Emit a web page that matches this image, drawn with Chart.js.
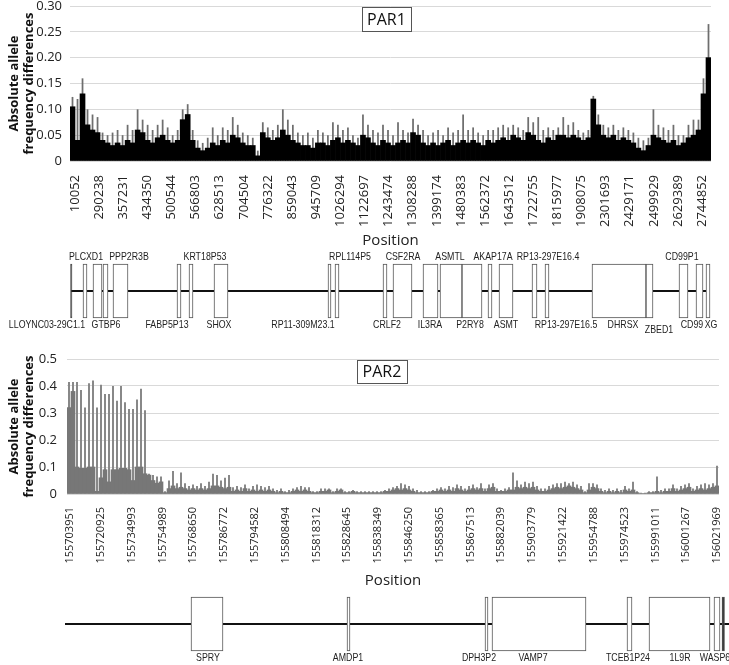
<!DOCTYPE html>
<html>
<head>
<meta charset="utf-8">
<title>PAR1 / PAR2 allele frequency differences</title>
<script src="https://cdn.jsdelivr.net/npm/chart.js@4.4.1/dist/chart.umd.min.js"></script>
<style>
  body { margin: 0; background: #fff; }
  #wrap { position: relative; width: 729px; height: 665px; }
  canvas { position: absolute; left: 0; }
</style>
</head>
<body>
<div id="wrap">
  <canvas id="par1Chart" width="729" height="250" style="top:0px"></canvas>
  <canvas id="par1Genes" width="729" height="90" style="top:250px"></canvas>
  <canvas id="par2Chart" width="729" height="250" style="top:340px"></canvas>
  <canvas id="par2Genes" width="729" height="75" style="top:590px"></canvas>
</div>
<script>
'use strict';

// ---- PAR1 data (bins read left to right off the picture) ----
let par1Ticks = ['10052', '290238', '357231', '434350', '500544', '566803', '628513', '704504',
  '776322', '859043', '945709', '1026294', '1122697', '1243474', '1308288', '1399174',
  '1480383', '1562372', '1643512', '1722755', '1815977', '1908075', '2301693', '2429171',
  '2499929', '2629389', '2744852'];

// bulk of the black fill in each bin
let par1Body = [
  0.105, 0.04, 0.13, 0.07, 0.06, 0.055, 0.04, 0.035, 0.03, 0.035,
  0.03, 0.04, 0.035, 0.06, 0.055, 0.04, 0.035, 0.045, 0.05, 0.04,
  0.035, 0.04, 0.08, 0.09, 0.04, 0.025, 0.02, 0.025, 0.035, 0.03,
  0.04, 0.035, 0.05, 0.045, 0.035, 0.03, 0.03, 0.01, 0.055, 0.045,
  0.04, 0.045, 0.06, 0.05, 0.04, 0.035, 0.03, 0.03, 0.025, 0.035,
  0.035, 0.03, 0.04, 0.045, 0.035, 0.04, 0.035, 0.03, 0.05, 0.045,
  0.035, 0.03, 0.04, 0.035, 0.03, 0.035, 0.04, 0.035, 0.055, 0.05,
  0.035, 0.03, 0.035, 0.03, 0.035, 0.04, 0.03, 0.035, 0.04, 0.035,
  0.04, 0.035, 0.03, 0.04, 0.035, 0.04, 0.045, 0.04, 0.05, 0.045,
  0.04, 0.055, 0.05, 0.04, 0.035, 0.045, 0.04, 0.05, 0.05, 0.045,
  0.05, 0.045, 0.04, 0.045, 0.12, 0.07, 0.05, 0.045, 0.05, 0.04,
  0.045, 0.04, 0.035, 0.025, 0.02, 0.03, 0.05, 0.045, 0.04, 0.035,
  0.04, 0.03, 0.035, 0.045, 0.05, 0.06, 0.13, 0.20
];
// highest spike in each bin
let par1Spike = [
  0.124, 0.12, 0.16, 0.10, 0.09, 0.085, 0.055, 0.05, 0.055, 0.06,
  0.05, 0.07, 0.06, 0.10, 0.08, 0.07, 0.06, 0.07, 0.08, 0.065,
  0.05, 0.06, 0.10, 0.11, 0.06, 0.04, 0.035, 0.045, 0.065, 0.05,
  0.065, 0.06, 0.085, 0.07, 0.055, 0.05, 0.045, 0.02, 0.075, 0.065,
  0.06, 0.07, 0.10, 0.08, 0.07, 0.055, 0.05, 0.055, 0.045, 0.06,
  0.055, 0.05, 0.075, 0.07, 0.06, 0.065, 0.05, 0.045, 0.09, 0.07,
  0.06, 0.055, 0.07, 0.06, 0.05, 0.075, 0.06, 0.055, 0.082, 0.07,
  0.06, 0.05, 0.055, 0.06, 0.05, 0.065, 0.055, 0.06, 0.09, 0.06,
  0.065, 0.055, 0.05, 0.06, 0.06, 0.065, 0.07, 0.065, 0.07, 0.065,
  0.06, 0.085, 0.075, 0.085, 0.06, 0.065, 0.06, 0.065, 0.085, 0.07,
  0.075, 0.06, 0.055, 0.06, 0.126, 0.09, 0.07, 0.065, 0.07, 0.06,
  0.065, 0.06, 0.055, 0.045, 0.04, 0.045, 0.10, 0.07, 0.065, 0.06,
  0.07, 0.05, 0.05, 0.07, 0.08, 0.08, 0.16, 0.265
];

// ---- PAR2 data ----
let par2Ticks = ['155703951', '155720925', '155734993', '155754989', '155768650', '155786772',
  '155794582', '155808494', '155818312', '155828645', '155838349', '155846250', '155858365',
  '155867513', '155882039', '155903779', '155921422', '155954788', '155974523', '155991011',
  '156001267', '156021969'];

let par2Base = [
  0.32, 0.38, 0.10, 0.095, 0.095, 0.10, 0.10, 0.01, 0.06, 0.09,
  0.045, 0.09, 0.09, 0.095, 0.095, 0.09, 0.05, 0.10, 0.10, 0.075,
  0.07, 0.05, 0.04, 0.045, 0.005, 0.02, 0.03, 0.02, 0.025, 0.02,
  0.015, 0.02, 0.015, 0.02, 0.015, 0.02, 0.03, 0.03, 0.025, 0.02,
  0.025, 0.01, 0.015, 0.01, 0.02, 0.01, 0.015, 0.01, 0.015, 0.01,
  0.015, 0.01, 0.005, 0.01, 0.005, 0.005, 0.01, 0.015, 0.01, 0.015,
  0.01, 0.005, 0.005, 0.01, 0.01, 0.015, 0.005, 0.01, 0.015, 0.005,
  0.005, 0.01, 0.005, 0.005, 0.005, 0.005, 0.005, 0.005, 0.005, 0.01,
  0.01, 0.015, 0.02, 0.015, 0.02, 0.015, 0.01, 0.005, 0.005, 0.005,
  0.005, 0.01, 0.01, 0.015, 0.01, 0.015, 0.01, 0.02, 0.015, 0.01,
  0.015, 0.02, 0.015, 0.02, 0.01, 0.02, 0.025, 0.01, 0.01, 0.01,
  0.015, 0.015, 0.025, 0.02, 0.025, 0.02, 0.025, 0.015, 0.01, 0.01,
  0.015, 0.02, 0.025, 0.02, 0.025, 0.03, 0.025, 0.02, 0.015, 0.005,
  0.015, 0.025, 0.02, 0.01, 0.005, 0.01, 0.005, 0.01, 0.005, 0.015,
  0.01, 0.015, 0.005, 0.002, 0.002, 0.005, 0.005, 0.01, 0.005, 0.01,
  0.01, 0.02, 0.01, 0.015, 0.02, 0.025, 0.01, 0.015, 0.02, 0.015,
  0.02, 0.025, 0.03
];
let par2Spike = [
  0.415, 0.415, 0.415, 0.385, 0.32, 0.41, 0.42, 0.32, 0.405, 0.37,
  0.37, 0.40, 0.345, 0.40, 0.34, 0.315, 0.315, 0.35, 0.39, 0.31,
  0.075, 0.07, 0.065, 0.065, 0.01, 0.05, 0.085, 0.04, 0.08, 0.04,
  0.03, 0.035, 0.03, 0.04, 0.03, 0.045, 0.075, 0.07, 0.05, 0.06,
  0.07, 0.025, 0.03, 0.025, 0.035, 0.02, 0.03, 0.035, 0.03, 0.025,
  0.03, 0.02, 0.015, 0.02, 0.01, 0.015, 0.02, 0.025, 0.03, 0.025,
  0.025, 0.01, 0.01, 0.02, 0.02, 0.02, 0.01, 0.02, 0.02, 0.01,
  0.01, 0.015, 0.01, 0.01, 0.01, 0.01, 0.01, 0.01, 0.01, 0.015,
  0.02, 0.025, 0.03, 0.04, 0.035, 0.03, 0.02, 0.015, 0.01, 0.01,
  0.01, 0.015, 0.02, 0.025, 0.02, 0.03, 0.025, 0.035, 0.03, 0.02,
  0.03, 0.035, 0.025, 0.04, 0.02, 0.035, 0.04, 0.02, 0.015, 0.02,
  0.025, 0.08, 0.05, 0.035, 0.045, 0.04, 0.045, 0.03, 0.02, 0.02,
  0.03, 0.035, 0.04, 0.04, 0.045, 0.04, 0.045, 0.035, 0.03, 0.01,
  0.04, 0.04, 0.035, 0.02, 0.015, 0.02, 0.015, 0.02, 0.015, 0.03,
  0.02, 0.045, 0.01, 0.005, 0.005, 0.01, 0.01, 0.065, 0.015, 0.02,
  0.02, 0.035, 0.02, 0.03, 0.035, 0.04, 0.02, 0.03, 0.035, 0.04,
  0.035, 0.04, 0.105
];

// ---- gene maps (schematic units, same width as the panels above) ----
let par1GeneStart = [70.5, 83, 93, 103, 113, 177, 189, 214, 328, 335, 383, 393, 423, 440, 462,
  488, 499, 532, 545, 592, 646, 679, 696, 706];
let par1GeneEnd = [72, 87, 102, 108, 128, 181, 193, 228, 331, 339, 387, 412, 438, 462, 482,
  492, 513, 537, 549, 646, 653, 688, 703, 710];
let par1GeneNames = ['LLOYNC03-29C1.1', 'PLCXD1', 'GTBP6', 'PPP2R3B', 'FABP5P13', 'KRT18P53',
  'SHOX', 'RP11-309M23.1', 'RPL114P5', 'CRLF2', 'CSF2RA', 'IL3RA', 'ASMTL', 'P2RY8', 'AKAP17A',
  'ASMT', 'RP13-297E16.4', 'RP13-297E16.5', 'DHRSX', 'ZBED1', 'CD99P1', 'CD99', 'XG'];
let par1NameAt = [47, 86, 106, 129, 167, 205, 219, 303, 350, 387, 403, 430, 450, 470, 493,
  506, 548, 566, 623, 659, 682, 692, 711];
let par1NameSide = ['below', 'above', 'below', 'above', 'below', 'above', 'below', 'below',
  'above', 'below', 'above', 'below', 'above', 'below', 'above', 'below', 'above', 'below',
  'below', 'lower', 'above', 'below', 'below'];

let par2GeneStart = [191, 347, 485, 492, 627, 649, 714, 722];
let par2GeneEnd = [223, 350, 488, 586, 632, 710, 720, 724.5];
let par2GeneNames = ['SPRY', 'AMDP1', 'DPH3P2', 'VAMP7', 'TCEB1P24', '1L9R', 'WASP6'];
let par2NameAt = [208, 348, 479, 533, 628, 680, 715];
let par2NameSide = ['below', 'below', 'below', 'below', 'below', 'below', 'below'];

Chart.defaults.font.family = '"Open Sans", "Liberation Sans", sans-serif';
Chart.defaults.color = '#333';
Chart.defaults.animation = false;

// small boxed panel name (PAR1 / PAR2) inside the plot
function makeTagPlugin(text, cx, cy, w, h) {
  return {
    id: 'panelTag',
    afterDraw(chart) {
      let ctx = chart.ctx;
      ctx.save();
      ctx.fillStyle = '#fff';
      ctx.fillRect(cx - w / 2, cy - h / 2, w, h);
      ctx.strokeStyle = '#555';
      ctx.lineWidth = 1;
      ctx.strokeRect(Math.round(cx - w / 2) + 0.5, Math.round(cy - h / 2) + 0.5, w, h);
      ctx.fillStyle = '#111';
      ctx.font = '16px "Open Sans", sans-serif';
      ctx.textAlign = 'center';
      ctx.textBaseline = 'middle';
      ctx.fillText(text, cx, cy + 1);
      ctx.restore();
    }
  };
}

function drawFreqChart(canvasId, body, spike, ticks, opt) {
  let ctx = document.getElementById(canvasId);
  return new Chart(ctx, {
    type: 'bar',
    data: {
      labels: body.map((v, i) => i),
      datasets: [
        {
          data: spike,
          backgroundColor: opt.spikeColor,
          barPercentage: opt.spikeWidth,
          categoryPercentage: 1,
          grouped: false,
          order: 2
        },
        {
          data: body,
          backgroundColor: opt.bodyColor,
          barPercentage: 1,
          categoryPercentage: 1,
          grouped: false,
          order: 1
        }
      ]
    },
    options: {
      responsive: false,
      layout: { padding: opt.padding },
      plugins: { legend: { display: false }, tooltip: { enabled: false } },
      scales: {
        x: { type: 'category', display: false, offset: true },
        xt: {
          type: 'linear',
          axis: 'x',
          position: 'bottom',
          bounds: 'data',
          offset: false,
          min: opt.tickMin,
          max: opt.tickMax,
          grid: { display: false, drawTicks: false },
          border: { display: false },
          afterBuildTicks: (scale) => { scale.ticks = ticks.map((t, i) => ({ value: i })); },
          afterFit: (scale) => {
            scale.height = opt.xHeight;
            scale.paddingLeft = 0;
            scale.paddingRight = 0;
          },
          ticks: {
            autoSkip: false,
            minRotation: 90,
            maxRotation: 90,
            padding: opt.tickPad,
            color: '#222',
            font: { size: opt.tickFont },
            callback: (v) => (ticks[v] !== undefined ? ticks[v] : '')
          },
          title: {
            display: true,
            text: 'Position',
            color: '#222',
            font: { size: 15 },
            padding: { top: 0, bottom: 0 }
          }
        },
        y: {
          min: 0,
          max: opt.yMax,
          grid: { color: '#d9d9d9', drawTicks: false },
          border: { display: false },
          afterFit: (scale) => {
            scale.width = opt.yWidth;
            scale.paddingTop = 0;
            scale.paddingBottom = 0;
          },
          ticks: {
            stepSize: opt.yStep,
            padding: opt.yPad,
            color: '#222',
            font: { size: 13 },
            callback: (v) => (v === 0 ? '0' : v.toFixed(opt.yDigits))
          },
          title: {
            display: true,
            text: ['Absolute allele', 'frequency differences'],
            color: '#111',
            font: { size: 13, weight: 'bold', lineHeight: 1.15 },
            padding: { top: 7, bottom: 0 }
          }
        }
      }
    },
    plugins: [makeTagPlugin(opt.tag, opt.tagX, opt.tagY, opt.tagW, opt.tagH)]
  });
}

// gene names written above / below the boxes, squeezed to a narrow face
function makeGeneLabelPlugin(names, at, sides, rows, size) {
  return {
    id: 'geneLabels',
    afterDatasetsDraw(chart) {
      let ctx = chart.ctx;
      let xs = chart.scales.x;
      let ys = chart.scales.y;
      ctx.save();
      ctx.font = size + 'px "Liberation Sans", "DejaVu Sans", sans-serif';
      ctx.fillStyle = '#222';
      ctx.textAlign = 'center';
      ctx.textBaseline = 'middle';
      for (let i = 0; i < names.length; i++) {
        let w = ctx.measureText(names[i]).width * 0.8;
        ctx.fillText(names[i], xs.getPixelForValue(at[i]), ys.getPixelForValue(rows[sides[i]]), w);
      }
      ctx.restore();
    }
  };
}

function drawGeneMap(canvasId, starts, ends, names, at, sides, dims) {
  let ctx = document.getElementById(canvasId);
  let boxes = [];
  for (let i = 0; i < starts.length; i++) {
    boxes.push({ x: [starts[i], ends[i]], y: dims.lineY });
  }
  return new Chart(ctx, {
    type: 'bar',
    data: {
      datasets: [
        {
          type: 'line',
          data: [{ x: dims.lineFrom, y: dims.lineY }, { x: dims.lineTo, y: dims.lineY }],
          borderColor: '#111',
          borderWidth: 2,
          pointRadius: 0,
          order: 2
        },
        {
          indexAxis: 'y',
          data: boxes,
          barThickness: dims.boxHeight,
          borderWidth: 1,
          borderSkipped: false,
          borderColor: '#555',
          backgroundColor: (c) => (ends[c.dataIndex] - starts[c.dataIndex] < 3 ? '#333' : '#fff'),
          order: 1
        }
      ]
    },
    options: {
      responsive: false,
      layout: { padding: 0 },
      plugins: { legend: { display: false }, tooltip: { enabled: false } },
      scales: {
        x: { type: 'linear', display: false, offset: false, min: 0, max: 729 },
        y: { type: 'linear', display: false, offset: false, min: 0, max: dims.height, reverse: true }
      }
    },
    plugins: [makeGeneLabelPlugin(names, at, sides, dims.rows, dims.fontSize)]
  });
}

drawFreqChart('par1Chart', par1Body, par1Spike, par1Ticks, {
  bodyColor: '#000',
  spikeColor: '#6e6e6e',
  spikeWidth: 0.35,
  padding: { top: 6, right: 18, left: 0, bottom: 0 },
  tickMin: -0.21,
  tickMax: 26.37,
  xHeight: 89,
  tickPad: 14,
  tickFont: 13,
  yMax: 0.3,
  yStep: 0.05,
  yDigits: 2,
  yWidth: 70,
  yPad: 8,
  tag: 'PAR1', tagX: 386.5, tagY: 19, tagW: 49, tagH: 24
});

drawGeneMap('par1Genes', par1GeneStart, par1GeneEnd, par1GeneNames, par1NameAt, par1NameSide, {
  height: 90, lineY: 41, boxHeight: 54, lineFrom: 71, lineTo: 706, fontSize: 11,
  rows: { above: 7, below: 75, lower: 80 }
});

drawFreqChart('par2Chart', par2Base, par2Spike, par2Ticks, {
  bodyColor: '#777',
  spikeColor: '#888',
  spikeWidth: 0.5,
  padding: { top: 19, right: 10, left: 0, bottom: 0 },
  tickMin: -0.097,
  tickMax: 21.065,
  xHeight: 96,
  tickPad: 13,
  tickFont: 11,
  yMax: 0.5,
  yStep: 0.1,
  yDigits: 1,
  yWidth: 67,
  yPad: 10,
  tag: 'PAR2', tagX: 382, tagY: 31.5, tagW: 50, tagH: 23
});

drawGeneMap('par2Genes', par2GeneStart, par2GeneEnd, par2GeneNames, par2NameAt, par2NameSide, {
  height: 75, lineY: 34, boxHeight: 54, lineFrom: 65, lineTo: 729, fontSize: 11,
  rows: { below: 68 }
});
</script>
</body>
</html>
